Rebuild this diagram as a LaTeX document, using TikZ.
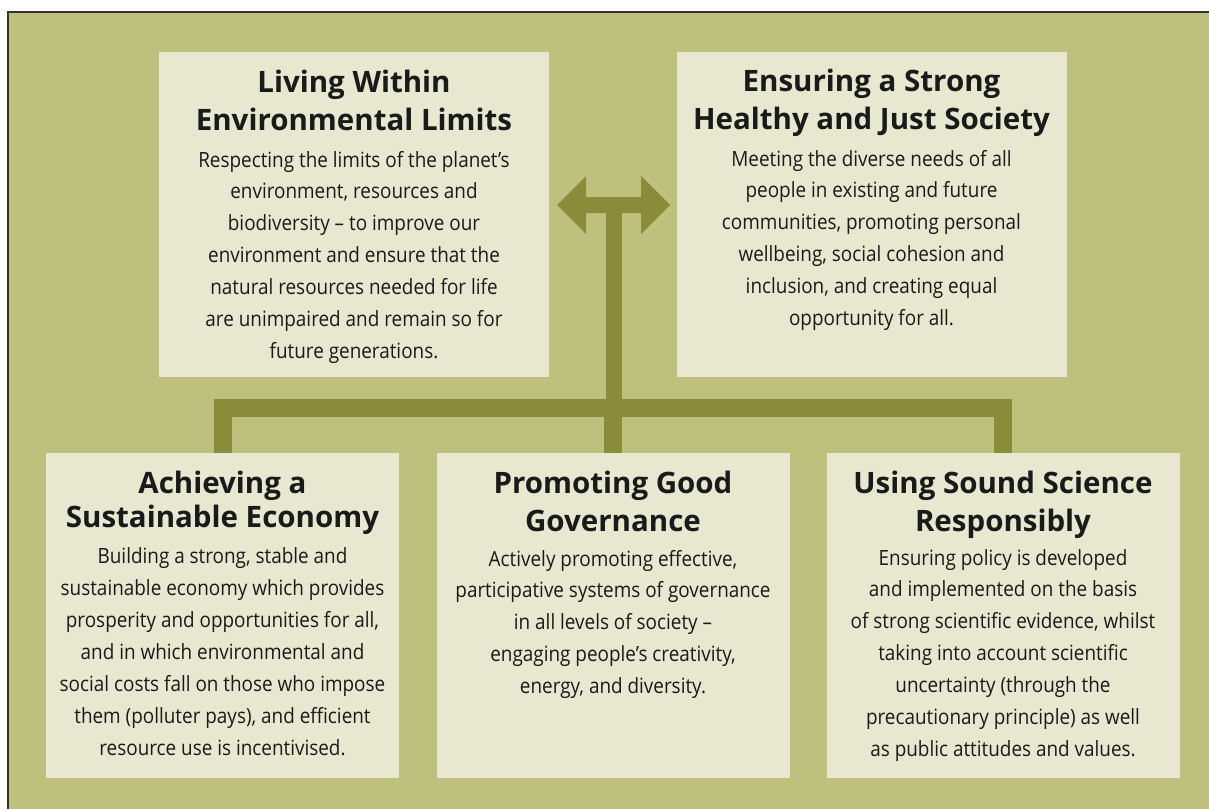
\documentclass[tikz,border=0pt]{standalone}
\usepackage{fontspec}
\setmainfont{Open Sans}
\newfontfamily\titlefont{Open Sans}
\newfontfamily\bodyfont[FakeStretch=0.9]{Open Sans}
\definecolor{panelbg}{HTML}{BFC07E}
\definecolor{boxfill}{HTML}{E8E7D0}
\definecolor{barcol}{HTML}{8A8C3A}
\definecolor{inkcol}{HTML}{1A1A1A}
\definecolor{framecol}{HTML}{333333}
\tikzset{
  topbox/.style={draw=none, fill=boxfill, minimum width=390pt, minimum height=325pt, inner sep=0pt},
  botbox/.style={draw=none, fill=boxfill, minimum width=353pt, minimum height=325pt, inner sep=0pt},
  titletext/.style={anchor=base, align=center, inner sep=0pt, text=inkcol, font=\titlefont\bfseries\fontsize{29.5}{38}\selectfont},
  bodytext/.style={anchor=base, align=center, inner sep=0pt, text=inkcol, font=\bodyfont\fontsize{21}{31.9}\selectfont},
  bar/.style={draw=barcol, line width=18pt, line join=miter, line cap=butt},
  stem/.style={draw=barcol, line width=16pt, line cap=butt},
}
\begin{document}
\begin{tikzpicture}[x=1pt,y=-1pt]
\useasboundingbox (0,0) rectangle (1209,809);
\fill[white] (0,0) rectangle (1209,809);
\fill[panelbg] (7,11) rectangle (1209,809);
\draw[framecol, line width=2pt] (8,809) -- (8,12) -- (1209,12);

% boxes
\node[topbox] (tl) at (354,214.5) {};
\node[topbox] (tr) at (871.5,214.5) {};
\node[botbox] (b1) at (222.5,615.5) {};
\node[botbox] (b2) at (613,615.5) {};
\node[botbox] (b3) at (1003,615.5) {};

% connectors
\coordinate (hub) at (614,408);
\coordinate (arrowc) at (614,205);
\draw[bar] (b1.north) -- (b1.north |- hub) -- (b3.north |- hub) -- (b3.north);
\draw[bar] (b2.north) -- (b2.north |- hub);
\draw[stem] (hub) -- ([yshift=-8pt]arrowc);
\fill[barcol] (557,205) -- (586,176) -- (586,197) -- (641,197) -- (641,176) -- (670,205)
  -- (641,234) -- (641,213) -- (586,213) -- (586,234) -- cycle;

% texts (anchor base = baseline of last line)
\node[titletext] (tlt) at (354,130) {Living Within\\Environmental Limits};
\node[bodytext] (tlb) at (354,358.4) {Respecting the limits of the planet’s\\environment, resources and\\biodiversity – to improve our\\environment and ensure that the\\natural resources needed for life\\are unimpaired and remain so for\\future generations.};

\node[titletext] (trt) at (871.5,129.5) {Ensuring a Strong\\Healthy and Just Society};
\node[bodytext] (trb) at (871.5,325.5) {Meeting the diverse needs of all\\people in existing and future\\communities, promoting personal\\wellbeing, social cohesion and\\inclusion, and creating equal\\opportunity for all.};

\node[titletext, font=\titlefont\bfseries\fontsize{29.5}{34}\selectfont] (b1t) at (222.5,527) {Achieving a\\Sustainable Economy};
\node[bodytext] (b1b) at (222.5,755) {Building a strong, stable and\\sustainable economy which provides\\prosperity and opportunities for all,\\and in which environmental and\\social costs fall on those who impose\\them (polluter pays), and efficient\\resource use is incentivised.};

\node[titletext] (b2t) at (613,531) {Promoting Good\\Governance};
\node[bodytext] (b2b) at (613,693.6) {Actively promoting effective,\\participative systems of governance\\in all levels of society –\\engaging people’s creativity,\\energy, and diversity.};

\node[titletext] (b3t) at (1003,531) {Using Sound Science\\Responsibly};
\node[bodytext] (b3b) at (1003,756.4) {Ensuring policy is developed\\and implemented on the basis\\of strong scientific evidence, whilst\\taking into account scientific\\uncertainty (through the\\precautionary principle) as well\\as public attitudes and values.};
\end{tikzpicture}
\end{document}
